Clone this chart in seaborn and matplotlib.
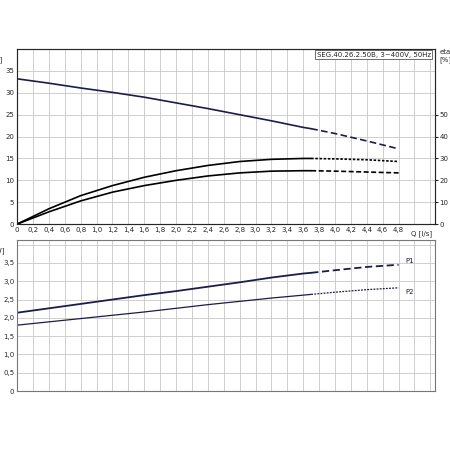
import numpy as np
import pandas as pd
import matplotlib
matplotlib.use("Agg")
import matplotlib.pyplot as plt
import seaborn as sns

q = [0, 0.4, 0.8, 1.2, 1.6, 2.0, 2.4, 2.8, 3.2, 3.6, 3.7, 4.0, 4.4, 4.8]
head = [33.2, 32.2, 31.1, 30.1, 29.0, 27.7, 26.4, 25.0, 23.6, 22.1, 21.8, 20.7, 19.0, 17.2]
eta_hi = [0, 7.0, 13.0, 17.6, 21.4, 24.4, 26.8, 28.6, 29.6, 30.0, 30.0, 29.8, 29.4, 28.6]
eta_lo = [0, 5.6, 10.6, 14.6, 17.6, 20.0, 22.0, 23.4, 24.2, 24.4, 24.4, 24.2, 23.8, 23.4]
p1 = [2.14, 2.26, 2.38, 2.50, 2.62, 2.73, 2.85, 2.97, 3.10, 3.21, 3.23, 3.30, 3.39, 3.45]
p2 = [1.80, 1.89, 1.98, 2.07, 2.16, 2.26, 2.36, 2.45, 2.54, 2.62, 2.64, 2.70, 2.77, 2.82]
title = "SEG.40.26.2.50B, 3~400V, 50Hz"

df = pd.DataFrame(dict(q=q, head=head, eta_hi=eta_hi, eta_lo=eta_lo, p1=p1, p2=p2))
solid = df[df.q <= 3.7]
dashed = df[df.q >= 3.7]

sns.set_style("white")
plt.rcParams["font.family"] = ["DejaVu Sans"]
col = "#1c1c48"
fs = 5

fig = plt.figure(figsize=(4.5, 4.5), dpi=100)
ax1 = fig.add_axes([0.038, 0.502, 0.929, 0.389])
ax2 = fig.add_axes([0.038, 0.131, 0.929, 0.336])
xticks = np.round(np.arange(0, 5.3, 0.2), 1)

def style(ax, ymax, ystep):
    ax.set_xlim(0, 5.26)
    ax.set_ylim(0, ymax)
    ax.set_xticks(xticks)
    ax.set_yticks(np.arange(0, ymax, ystep))
    ax.grid(True, color="#c8c8c8", lw=0.6)
    ax.tick_params(labelsize=fs, length=0, pad=2)
    ax.set_xlabel("")
    ax.set_ylabel("")
    for s in ax.spines.values():
        s.set_color("#777777")
        s.set_linewidth(0.8)

sns.lineplot(data=solid, x="q", y="head", ax=ax1, color=col, lw=1.2)
sns.lineplot(data=dashed, x="q", y="head", ax=ax1, color=col, lw=1.2, linestyle=(0, (4, 2)))
style(ax1, 40, 5)
ax1.set_xticklabels(["0"] + [f"{v:.1f}".replace(".", ",") if v <= 4.8 else "" for v in xticks[1:]])
ax1.set_yticklabels([str(v) for v in range(0, 40, 5)])
ax1.text(4.95, -1.3, "Q [l/s]", fontsize=fs, va="top")

ax3 = ax1.twinx()
sns.lineplot(data=solid, x="q", y="eta_hi", ax=ax3, color="black", lw=1.2)
sns.lineplot(data=dashed, x="q", y="eta_hi", ax=ax3, color="black", lw=1.2, linestyle=(0, (1.5, 1)))
sns.lineplot(data=solid, x="q", y="eta_lo", ax=ax3, color="black", lw=1.2)
sns.lineplot(data=dashed, x="q", y="eta_lo", ax=ax3, color="black", lw=1.2, linestyle=(0, (3, 1.5)))
ax3.set_ylim(0, 80)
ax3.set_yticks([0, 10, 20, 30, 40, 50])
ax3.tick_params(labelsize=fs, length=2, pad=1)
ax3.set_ylabel("")
ax3.grid(False)

ax1.text(-0.05, 1.0, "H\n[m]", transform=ax1.transAxes, fontsize=fs, ha="center", va="top")
ax1.text(1.025, 1.0, "eta\n[%]", transform=ax1.transAxes, fontsize=fs, ha="center", va="top")
ax1.text(0.99, 0.985, title, transform=ax1.transAxes, fontsize=fs, ha="right", va="top",
         bbox=dict(boxstyle="square,pad=0.2", fc="white", ec="#555555", lw=0.6))

sns.lineplot(data=solid, x="q", y="p1", ax=ax2, color=col, lw=1.3)
sns.lineplot(data=dashed, x="q", y="p1", ax=ax2, color=col, lw=1.3, linestyle=(0, (4, 2)))
sns.lineplot(data=solid, x="q", y="p2", ax=ax2, color=col, lw=0.9)
sns.lineplot(data=dashed, x="q", y="p2", ax=ax2, color=col, lw=0.9, linestyle=(0, (1.5, 1)))
style(ax2, 4.13, 0.5)
ax2.set_xticklabels([])
ax2.set_yticklabels(["0"] + [f"{v:.1f}".replace(".", ",") for v in np.arange(0.5, 4.0, 0.5)] + [""])
ax2.text(-0.05, 1.0, "P\n[kW]", transform=ax2.transAxes, fontsize=fs, ha="center", va="top")
ax2.text(4.88, p1[-1] + 0.05, "P1", fontsize=fs, color=col)
ax2.text(4.88, p2[-1] - 0.18, "P2", fontsize=fs, color=col)

fig.savefig("out.png", dpi=100, facecolor="white")
